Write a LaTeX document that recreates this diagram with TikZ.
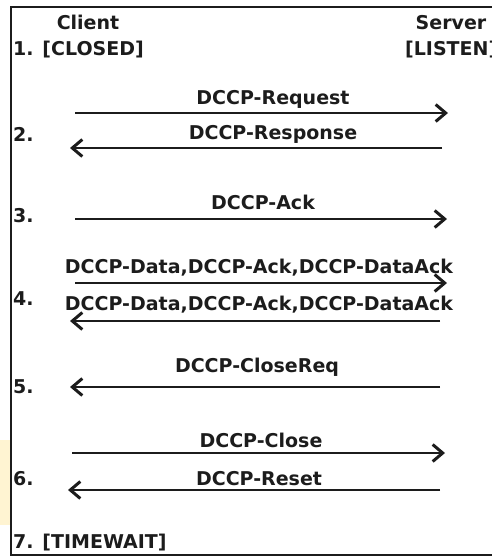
\documentclass[tikz,border=0pt]{standalone}
\usepackage{fontspec}
\setmainfont{DejaVu Sans}
\usetikzlibrary{arrows.meta}
\definecolor{ink}{HTML}{1C1C1C}
\definecolor{paleyellow}{HTML}{FFF4D2}
\tikzset{
  lbl/.style={inner sep=0pt, anchor=base, text=ink, font=\fontsize{19}{22}\selectfont\bfseries},
  lbll/.style={lbl, anchor=base west},
  msg/.style={draw=ink, line width=2.2pt, -{Straight Barb[length=10pt,width=17pt,line width=3pt]}},
  frame/.style={draw=ink, line width=2.4pt}
}
\begin{document}
\begin{tikzpicture}[x=1pt,y=-1pt]
\useasboundingbox (0,0) rectangle (492,558);
\clip (0,0) rectangle (492,558);
\fill[paleyellow] (0,440) rectangle (10,525);
\draw[frame] (520,7) -- (11,7) -- (11,555) -- (520,555);

\node[lbl] (client) at (88,29) {Client};
\node[lbl] (server) at (451,29) {Server};
\node[lbll] (s1) at (13,55) {1. [CLOSED]};
\node[lbll] (listen) at (405,55) {[LISTEN]};

\node[lbl] (reqlbl) at (273,104) {DCCP-Request};
\coordinate (r1a) at (75,113); \coordinate (r1b) at (448,113);
\draw[msg] (r1a) -- (r1b);

\node[lbll] (s2) at (13,141) {2.};
\node[lbl] (resplbl) at (273,139) {DCCP-Response};
\coordinate (r2a) at (442,148); \coordinate (r2b) at (70,148);
\draw[msg] (r2a) -- (r2b);

\node[lbl] (acklbl) at (263,209) {DCCP-Ack};
\node[lbll] (s3) at (13,222) {3.};
\coordinate (r3a) at (75,219); \coordinate (r3b) at (447,219);
\draw[msg] (r3a) -- (r3b);

\node[lbl] (d1lbl) at (259,273) {DCCP-Data,DCCP-Ack,DCCP-DataAck};
\coordinate (r4a) at (75,283); \coordinate (r4b) at (447,283);
\draw[msg] (r4a) -- (r4b);
\node[lbll] (s4) at (13,305) {4.};
\node[lbl] (d2lbl) at (259,310) {DCCP-Data,DCCP-Ack,DCCP-DataAck};
\coordinate (r5a) at (440,321); \coordinate (r5b) at (70,321);
\draw[msg] (r5a) -- (r5b);

\node[lbl] (crlbl) at (257,372) {DCCP-CloseReq};
\node[lbll] (s5) at (13,393) {5.};
\coordinate (r6a) at (440,387); \coordinate (r6b) at (70,387);
\draw[msg] (r6a) -- (r6b);

\node[lbl] (closelbl) at (261,447) {DCCP-Close};
\coordinate (r7a) at (72,453); \coordinate (r7b) at (445,453);
\draw[msg] (r7a) -- (r7b);

\node[lbll] (s6) at (13,485) {6.};
\node[lbl] (resetlbl) at (259,485) {DCCP-Reset};
\coordinate (r8a) at (440,490); \coordinate (r8b) at (68,490);
\draw[msg] (r8a) -- (r8b);

\node[lbll] (s7) at (13,548) {7. [TIMEWAIT]};
\end{tikzpicture}
\end{document}
